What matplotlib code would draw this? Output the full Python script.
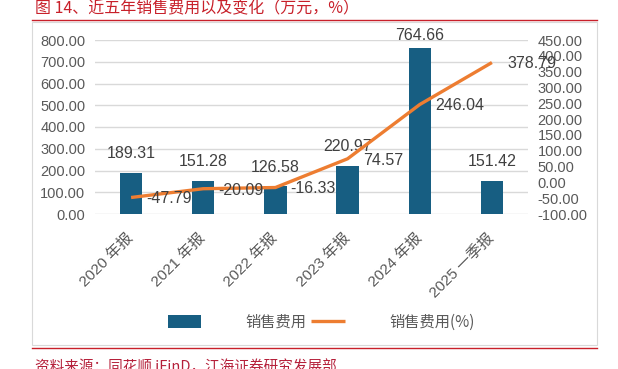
import numpy as np
import matplotlib
matplotlib.use("Agg")
import matplotlib.pyplot as plt
from matplotlib.patches import Rectangle
from matplotlib.lines import Line2D

plt.rcParams['font.family'] = ['Liberation Sans', 'Noto Sans CJK SC', 'DejaVu Sans']

categories = ['2020 年报', '2021 年报', '2022 年报', '2023 年报', '2024 年报', '2025 一季报']
expense = [189.31, 151.28, 126.58, 220.97, 764.66, 151.42]
change_pct = [-47.79, -20.09, -16.33, 74.57, 246.04, 378.79]
left_ticks = np.arange(0, 801, 100)
right_ticks = np.arange(-100, 451, 50)

BAR = '#175E82'
LINE = '#ED7D31'
GRID = '#D9D9D9'
TXT = '#595959'
LBL = '#404040'
RED = '#C8202A'

fig = plt.figure(figsize=(6.18, 3.69), dpi=100)

# frame and red rules
fig.add_artist(Rectangle((32 / 618, 1 - 345 / 369), 565 / 618, 323 / 369,
                         transform=fig.transFigure, fill=False, edgecolor=GRID, lw=0.8))
fig.add_artist(Line2D([32 / 618, 597 / 618], [1 - 20 / 369] * 2, color=RED, lw=1.0,
                      transform=fig.transFigure))
fig.add_artist(Line2D([32 / 618, 597 / 618], [1 - 348 / 369] * 2, color=RED, lw=1.0,
                      transform=fig.transFigure))
fig.text(35 / 618, 1 - 9 / 369, '图 14、近五年销售费用以及变化（万元，%）', color=RED,
         fontsize=11.5, ha='left', va='center',
         family=['Noto Sans CJK SC', 'DejaVu Sans'])
fig.text(35 / 618, 1 - 367 / 369, '资料来源：同花顺 iFinD，江海证券研究发展部', color='#B5203A',
         fontsize=10.5, ha='left', va='center',
         family=['Noto Sans CJK SC', 'DejaVu Sans'])

ax = fig.add_axes([95 / 618, 1 - 214 / 369, 433 / 618, 174 / 369])
ax2 = ax.twinx()

x = np.arange(len(categories))
bars = ax.bar(x, expense, width=0.31, color=BAR, zorder=2)
ax.set_xlim(-0.5, len(categories) - 0.5)
ax.set_ylim(0, 800)
ax.set_yticks(left_ticks)
ax.set_yticklabels([f'{v:.2f}' for v in left_ticks])
ax.grid(axis='y', color=GRID, lw=1.0, zorder=0)
ax.set_axisbelow(True)
ax.set_xticks(x)
ax.set_xticklabels(categories, rotation=45, ha='right', va='center',
                   rotation_mode='anchor', family=['Liberation Sans', 'Noto Sans CJK SC'])
ax.tick_params(axis='x', length=0, pad=16, labelsize=11, labelcolor=TXT)
ax.tick_params(axis='y', length=0, pad=7, labelsize=10.5, labelcolor=TXT)

line, = ax2.plot(x, change_pct, color=LINE, lw=2.4, zorder=3, solid_capstyle='butt')
ax2.set_ylim(-100, 450)
ax2.set_yticks(right_ticks)
ax2.set_yticklabels([f'{v:.2f}' for v in right_ticks])
ax2.tick_params(axis='y', length=0, pad=7, labelsize=10.5, labelcolor=TXT)

for a in (ax, ax2):
    for s in a.spines.values():
        s.set_visible(False)

for xi, v in zip(x, expense):
    off = 14 if v < 700 else 9
    ax.annotate(f'{v:.2f}', (xi, v), xytext=(0, off), textcoords='offset points',
                ha='center', va='center', fontsize=11.5, color=LBL)
for xi, v in zip(x, change_pct):
    ax2.annotate(f'{v:.2f}', (xi, v), xytext=(11, -1), textcoords='offset points',
                 ha='left', va='center', fontsize=11.5, color=LBL, zorder=4)

leg = fig.legend([bars, line], ['销售费用', '销售费用(%)'], loc='center',
                 bbox_to_anchor=(321 / 618, 1 - 322 / 369), ncol=2, frameon=False,
                 handlelength=2.2, handleheight=0.9, handletextpad=2.9,
                 columnspacing=0.3, prop={'family': ['Noto Sans CJK SC', 'DejaVu Sans'], 'size': 11})
for t in leg.get_texts():
    t.set_color(TXT)

fig.savefig('out.png', dpi=100)
